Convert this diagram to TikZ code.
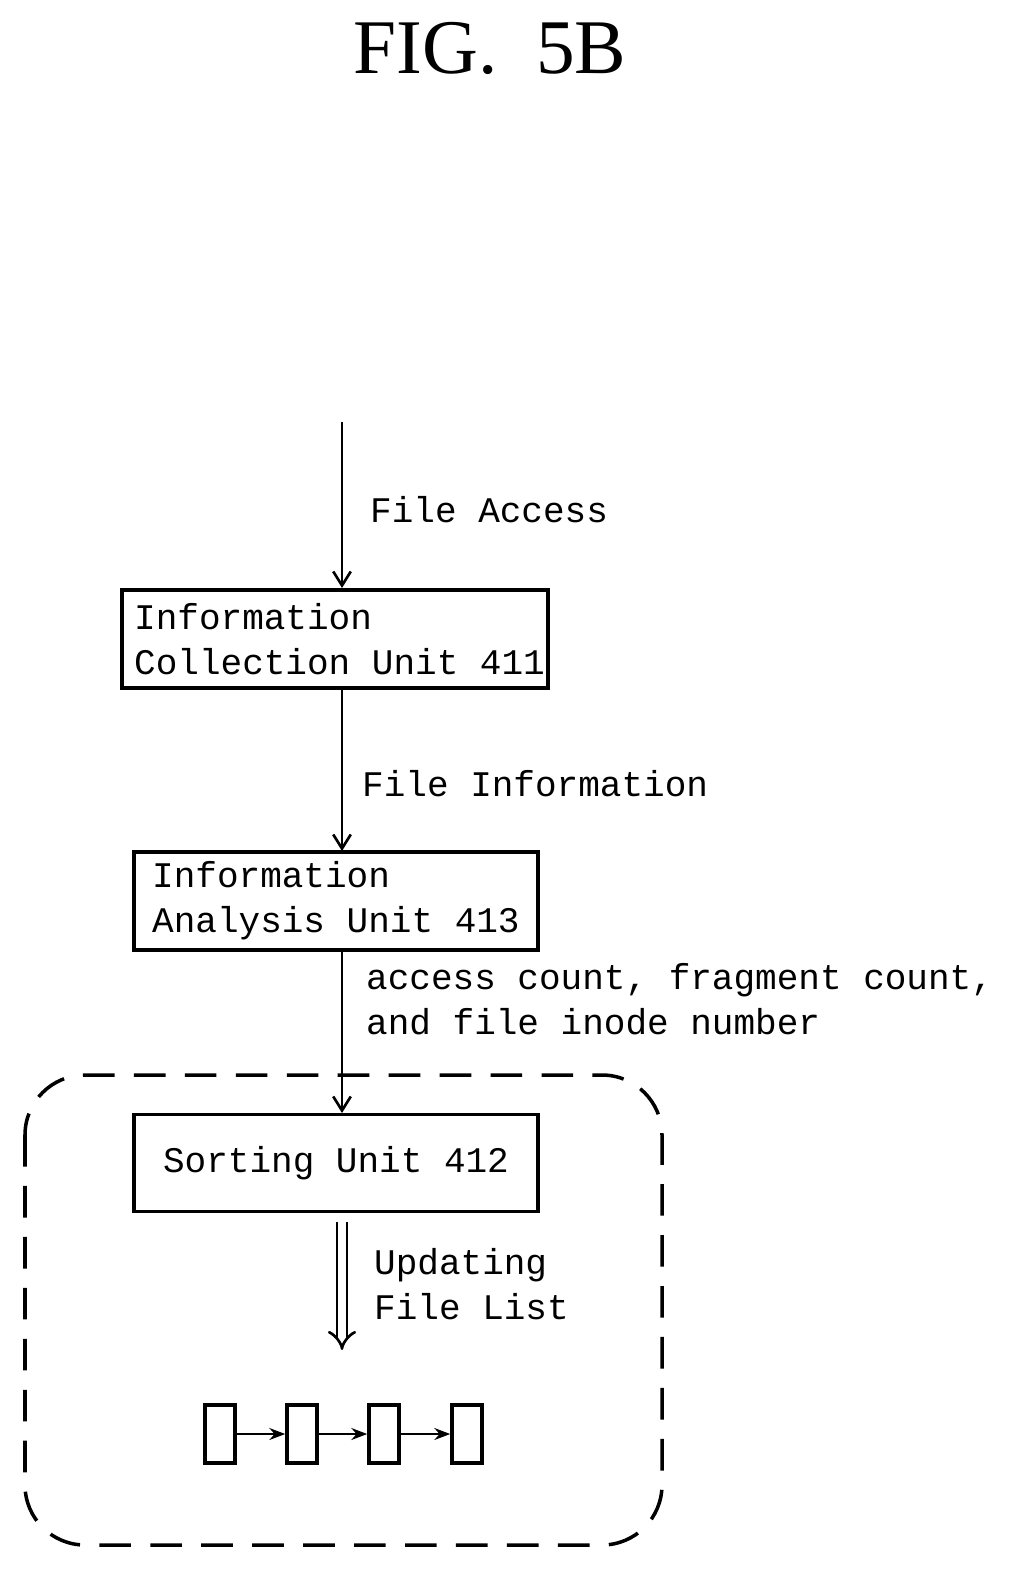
\documentclass[tikz,border=0pt]{standalone}
\usepackage{fontspec}
\setmainfont{Liberation Serif}
\setmonofont{Liberation Mono}
\usetikzlibrary{arrows.meta,positioning}
\begin{document}
\begin{tikzpicture}[x=0.02cm, y=-0.02cm,
    every node/.style={font=\ttfamily\fontsize{20.5}{25.5}\selectfont},
    unit/.style={draw, line width=2.2pt, inner sep=0pt},
    lbl/.style={anchor=west, align=left},
    flow/.style={line width=1.5pt, -{Straight Barb[length=8pt, width=10pt]}}]
    \useasboundingbox (0,0) rectangle (1022,1595);
    % title
    \node[font=\rmfamily\fontsize{44}{50}\selectfont] (title) at (490,48) {FIG.~~5B};

    % units
    \node[unit, minimum width=426*0.02cm, minimum height=98*0.02cm] (collect) at (335,639) {};
    \node[lbl] at (128,639) {Information\\Collection Unit 411};
    \node[unit, minimum width=404*0.02cm, minimum height=98*0.02cm] (analyse) at (336,901) {};
    \node[lbl] at (146,901) {Information\\Analysis Unit 413};
    \node[unit, minimum width=404*0.02cm, minimum height=97*0.02cm] (sort) at (336,1163) {Sorting Unit 412};

    % flows
    \coordinate (start) at (342,422);
    \draw[flow] (start) -- (342,588);
    \node[lbl] (access) at (364,510) {File Access};
    \draw[flow] (342,688) -- (342,851);
    \node[lbl] (info) at (356,784) {File Information};
    \draw[flow] (342,950) -- (342,1113);
    \node[lbl] (counts) at (360,999) {access count, fragment count,\\and file inode number};

    % dashed region
    \draw[line width=2pt, dash pattern=on 18pt off 11pt, rounded corners=60*0.02cm] (25,1075) rectangle (662,1545);

    % update arrow
    \coordinate (upd) at (342,1222);
    \draw[line width=1.5pt, double, double distance=4pt, -{Implies}] (upd) -- (342,1350);
    \node[lbl] (update) at (368,1284) {Updating\\File List};

    % file list
    \foreach \i/\x in {1/220,2/302,3/384,4/467}
        \node[draw, line width=2pt, minimum width=30*0.02cm, minimum height=58*0.02cm] (f\i) at (\x,1434) {};
    \foreach \a/\b in {1/2,2/3,3/4}
        \draw[line width=1.5pt, -{Stealth[length=9pt]}] (f\a) -- (f\b);
\end{tikzpicture}
\end{document}
